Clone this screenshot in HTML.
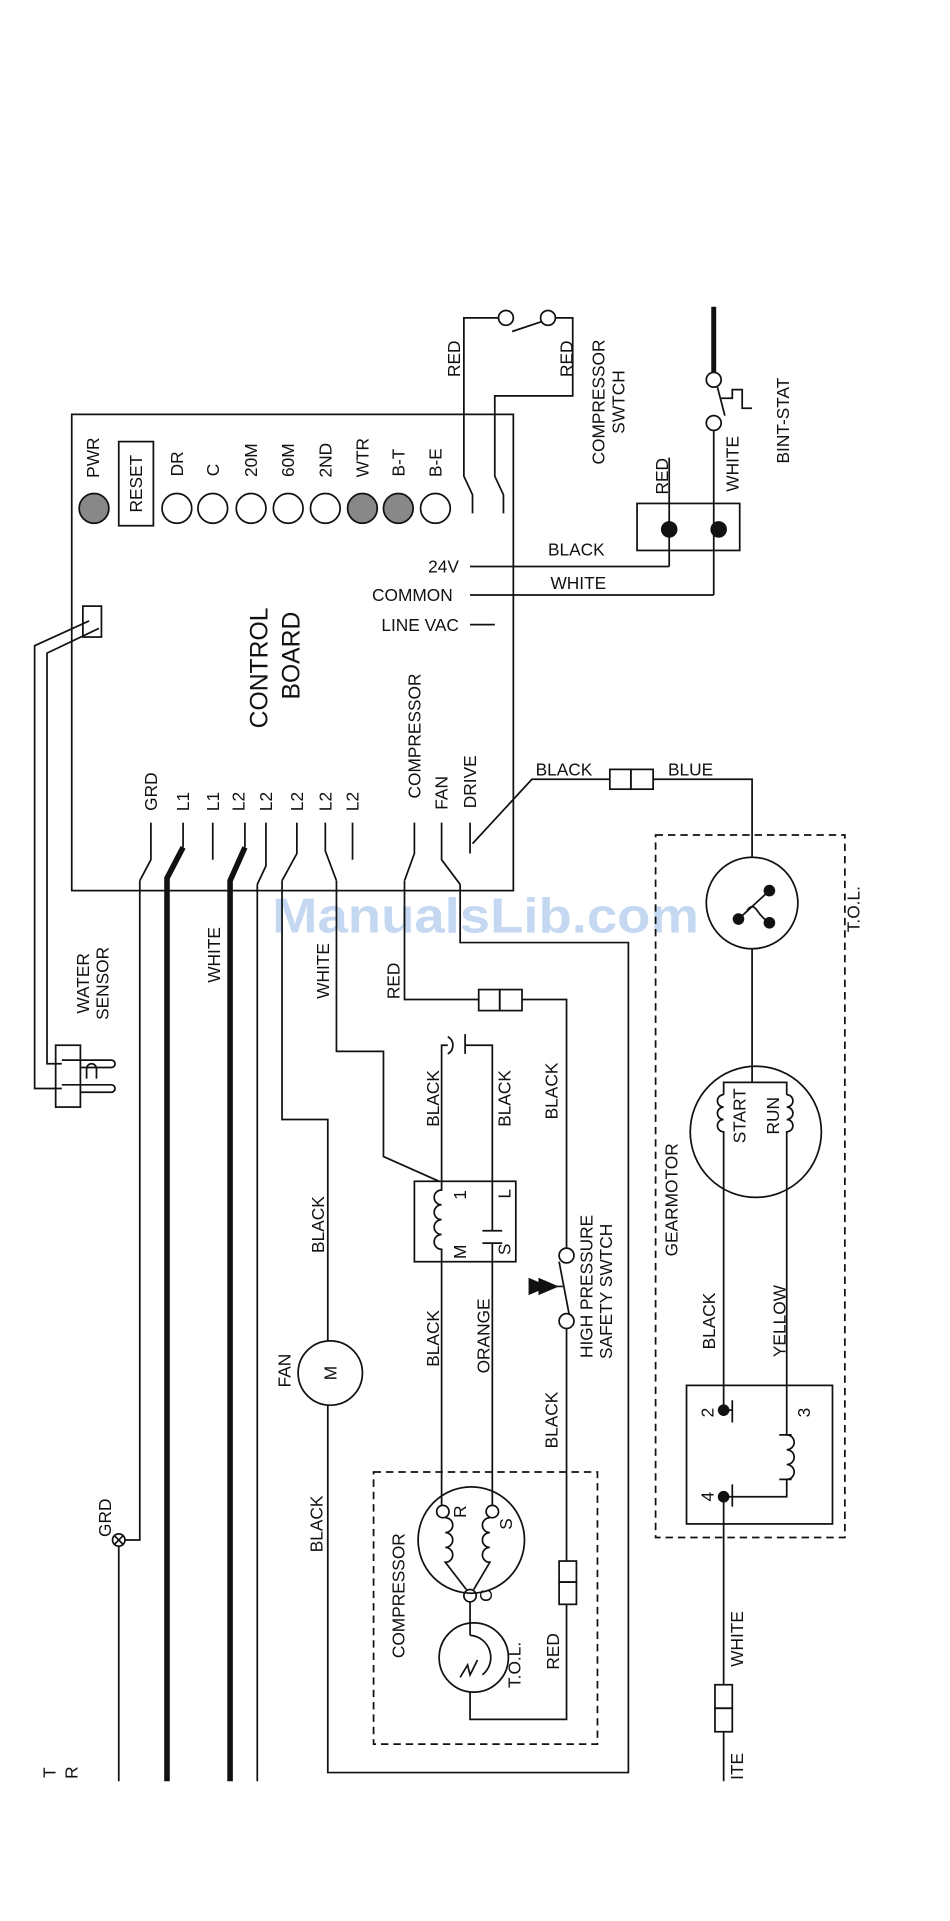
<!DOCTYPE html>
<html><head><meta charset="utf-8"><style>
html,body{margin:0;padding:0;background:#fff;}
svg{display:block;}
text{font-family:"Liberation Sans",sans-serif;font-size:14px;fill:#111;}
</style></head><body>
<svg width="950" height="1921" viewBox="0 0 768 1553" preserveAspectRatio="none" xmlns="http://www.w3.org/2000/svg">
<text x="220" y="754" textLength="345" lengthAdjust="spacingAndGlyphs" style="fill:#c5d8f2;font-weight:bold;font-size:40px">ManualsLib.com</text>
<g fill="none" stroke="#111" stroke-width="1.4">
<!-- control board -->
<rect x="58" y="335" width="357" height="385"/>
<rect x="96" y="357" width="28" height="68"/>
<circle cx="76" cy="411" r="12" fill="#888"/>
<circle cx="143" cy="411" r="12"/><circle cx="172" cy="411" r="12"/><circle cx="203" cy="411" r="12"/>
<circle cx="233" cy="411" r="12"/><circle cx="263" cy="411" r="12"/>
<circle cx="293" cy="411" r="12" fill="#888"/><circle cx="322" cy="411" r="12" fill="#888"/>
<circle cx="352" cy="411" r="12"/>
<!-- compressor switch -->
<circle cx="409" cy="257" r="6"/><circle cx="443" cy="257" r="6"/>
<line x1="414" y1="268" x2="438" y2="260"/>
<polyline points="403,257 375,257 375,385 382,400 382,415"/>
<polyline points="449,257 463,257 463,320 400,320 400,385 407,400 407,415"/>
<!-- bin stat -->
<line x1="577" y1="248" x2="577" y2="301" stroke-width="4"/>
<circle cx="577" cy="307" r="6"/><circle cx="577" cy="342" r="6"/>
<line x1="580" y1="313" x2="586" y2="336"/>
<polyline points="583,322 592,322 592,315 600,315 600,330 608,330"/>
<line x1="577" y1="348" x2="577" y2="481"/>
<rect x="515" y="407" width="83" height="38"/>
<line x1="541" y1="370" x2="541" y2="458"/>
<circle cx="541" cy="428" r="6" fill="#111"/><circle cx="581" cy="428" r="6" fill="#111"/>
<polyline points="380,458 541,458"/>
<polyline points="380,481 577,481"/>
<line x1="380" y1="505" x2="400" y2="505"/>
<!-- water sensor -->
<rect x="67" y="490" width="15" height="25"/>
<polyline points="72,502 28,522 28,880 50,880"/>
<polyline points="80,508 38,528 38,860 50,860"/>
<rect x="45" y="845" width="20" height="50"/>
<path d="M50,857 H90 a3,3 0 0 1 0,6 H65 M50,877 H90 a3,3 0 0 1 0,6 H65"/>
<path d="M70,872 v-8 a4,4 0 0 1 8,0 v8"/>
<!-- bottom terminal stubs -->
<path d="M122,665 V695 L113,712 M148,665 V685 M172,665 V695 M198,665 V685 M215,665 V700 L208,715 M240,665 V690 L228,712 M263,665 V688 L272,712 M285,665 V695 M335,665 V690 L327,712 M357,665 V695 L372,715 M380,665 V690"/>
<!-- wires -->
<polyline points="113,712 113,1245 101,1245"/>
<circle cx="96" cy="1245" r="5"/><path d="M92.5,1241.5 L99.5,1248.5 M99.5,1241.5 L92.5,1248.5"/>
<line x1="96" y1="1250" x2="96" y2="1440"/>
<polyline points="148,685 135,710 135,1440" stroke-width="4.5"/>
<polyline points="198,685 186,712 186,1440" stroke-width="4.5"/>
<line x1="208" y1="715" x2="208" y2="1440"/>
<polyline points="228,712 228,905 265,905 265,1084"/>
<circle cx="267" cy="1110" r="26"/>
<polyline points="265,1136 265,1433 508,1433 508,762 372,762 372,715"/>
<polyline points="272,712 272,850 310,850 310,935 355,955"/>
<polyline points="327,712 327,808 387,808"/>
<rect x="387" y="800" width="17" height="17"/><rect x="404" y="800" width="18" height="17"/>
<polyline points="422,808 458,808 458,1009"/>
<circle cx="458" cy="1015" r="6"/><circle cx="458" cy="1068" r="6"/>
<line x1="452" y1="1020" x2="460" y2="1062"/>
<line x1="442" y1="1040" x2="455" y2="1040"/>
<path d="M428,1034 L442,1040 L428,1046 Z M436,1034 L450,1040 L436,1046 Z" fill="#111"/>
<polyline points="458,1074 458,1262"/>
<rect x="452" y="1262" width="14" height="17"/><rect x="452" y="1279" width="14" height="18"/>
<polyline points="458,1297 458,1390 380,1390 380,1368"/>
<!-- drive -->
<polyline points="382,682 430,630 493,630"/>
<rect x="493" y="622" width="17" height="16"/><rect x="510" y="622" width="18" height="16"/>
<polyline points="528,630 608,630 608,693"/>
<!-- relay -->
<rect x="335" y="955" width="82" height="65"/>
<path d="M357,955 V962 a6,6 0 0 0 0,12 a6,6 0 0 0 0,12 a6,6 0 0 0 0,12 a6,6 0 0 0 0,12 V1020"/>
<polyline points="357,955 357,845 362,845"/>
<path d="M362,838 a8,8 0 0 1 0,14"/>
<path d="M376,836 V852 M376,845 H398 V995 M390,995 H406 M390,1005 H406 M398,1005 V1217"/>
<line x1="357" y1="1020" x2="357" y2="1217"/>
<!-- compressor -->
<rect x="302" y="1190" width="181" height="220" stroke-dasharray="6,4"/>
<circle cx="381" cy="1245" r="43"/>
<circle cx="358" cy="1222" r="5"/><circle cx="398" cy="1222" r="5"/><circle cx="380" cy="1290" r="5"/>
<path d="M360,1227 a6,6 0 0 1 0,12 a6,6 0 0 1 0,12 a6,6 0 0 1 0,12 L377,1285 M396,1227 a6,6 0 0 0 0,12 a6,6 0 0 0 0,12 a6,6 0 0 0 0,12 L383,1285"/>
<line x1="380" y1="1295" x2="380" y2="1322"/>
<circle cx="383" cy="1340" r="28"/>
<path d="M380,1322 a18,18 0 0 1 10,32 M372,1356 l6,-10 l2,8 l6,-12"/>
<!-- gearmotor -->
<rect x="530" y="675" width="153" height="568" stroke-dasharray="6,4"/>
<circle cx="608" cy="730" r="37"/>
<circle cx="597" cy="743" r="4" fill="#111"/><circle cx="622" cy="720" r="4" fill="#111"/><circle cx="622" cy="746" r="4" fill="#111"/>
<path d="M597,743 L622,720 M604,736 q4,-6 8,0 q4,6 10,10"/>
<line x1="608" y1="767" x2="608" y2="875"/>
<circle cx="611" cy="915" r="53"/>
<polyline points="585,885 585,875 636,875 636,885"/>
<path d="M585,885 a5,5 0 0 0 0,10 a5,5 0 0 0 0,10 a5,5 0 0 0 0,10 V1140 M636,885 a5,5 0 0 1 0,10 a5,5 0 0 1 0,10 a5,5 0 0 1 0,10 V1160"/>
<rect x="555" y="1120" width="118" height="112"/>
<circle cx="585" cy="1140" r="4" fill="#111"/><circle cx="585" cy="1210" r="4" fill="#111"/>
<path d="M592,1132 V1150 M592,1200 V1218 M585,1140 H592 M585,1210 H592"/>
<path d="M636,1160 a6,6 0 0 1 0,12 a6,6 0 0 1 0,12 a6,6 0 0 1 0,12 M640,1160 H630 M630,1196 H640 M636,1196 V1210 H592"/>
<line x1="585" y1="1210" x2="585" y2="1362"/>
<rect x="578" y="1362" width="14" height="19"/><rect x="578" y="1381" width="14" height="19"/>
<line x1="585" y1="1400" x2="585" y2="1440"/>
</g>
<g dominant-baseline="central" text-anchor="middle">
<text transform="translate(75,370) rotate(-90)">PWR</text>
<text transform="translate(110,391) rotate(-90)">RESET</text>
<text transform="translate(143,375) rotate(-90)">DR</text>
<text transform="translate(172,380) rotate(-90)">C</text>
<text transform="translate(203,372) rotate(-90)">20M</text>
<text transform="translate(233,372) rotate(-90)">60M</text>
<text transform="translate(263,372) rotate(-90)">2ND</text>
<text transform="translate(293,370) rotate(-90)">WTR</text>
<text transform="translate(322,374) rotate(-90)">B-T</text>
<text transform="translate(352,374) rotate(-90)">B-E</text>
<text transform="translate(210,540) rotate(-90)" style="font-size:20px">CONTROL</text>
<text transform="translate(236,530) rotate(-90)" style="font-size:20px">BOARD</text>
<text transform="translate(122,640) rotate(-90)">GRD</text>
<text transform="translate(148,648) rotate(-90)">L1</text>
<text transform="translate(172,648) rotate(-90)">L1</text>
<text transform="translate(193,648) rotate(-90)">L2</text>
<text transform="translate(215,648) rotate(-90)">L2</text>
<text transform="translate(240,648) rotate(-90)">L2</text>
<text transform="translate(263,648) rotate(-90)">L2</text>
<text transform="translate(285,648) rotate(-90)">L2</text>
<text transform="translate(335,595) rotate(-90)">COMPRESSOR</text>
<text transform="translate(357,641) rotate(-90)">FAN</text>
<text transform="translate(380,632) rotate(-90)">DRIVE</text>
<text transform="translate(367,290) rotate(-90)">RED</text>
<text transform="translate(458,290) rotate(-90)">RED</text>
<text transform="translate(484,325) rotate(-90)">COMPRESSOR</text>
<text transform="translate(500,325) rotate(-90)">SWTCH</text>
<text transform="translate(535,385) rotate(-90)">RED</text>
<text transform="translate(592,375) rotate(-90)">WHITE</text>
<text transform="translate(633,340) rotate(-90)">BINT-STAT</text>
<text transform="translate(67,795) rotate(-90)">WATER</text>
<text transform="translate(83,795) rotate(-90)">SENSOR</text>
<text transform="translate(173,772) rotate(-90)">WHITE</text>
<text transform="translate(261,785) rotate(-90)">WHITE</text>
<text transform="translate(318,793) rotate(-90)">RED</text>
<text transform="translate(350,888) rotate(-90)">BLACK</text>
<text transform="translate(408,888) rotate(-90)">BLACK</text>
<text transform="translate(446,882) rotate(-90)">BLACK</text>
<text transform="translate(257,990) rotate(-90)">BLACK</text>
<text transform="translate(372,966) rotate(-90)">1</text>
<text transform="translate(408,965) rotate(-90)">L</text>
<text transform="translate(372,1012) rotate(-90)">M</text>
<text transform="translate(408,1010) rotate(-90)">S</text>
<text transform="translate(267,1110) rotate(-90)">M</text>
<text transform="translate(230,1108) rotate(-90)">FAN</text>
<text transform="translate(350,1082) rotate(-90)">BLACK</text>
<text transform="translate(391,1080) rotate(-90)">ORANGE</text>
<text transform="translate(474,1040) rotate(-90)">HIGH PRESSURE</text>
<text transform="translate(490,1044) rotate(-90)">SAFETY SWTCH</text>
<text transform="translate(446,1148) rotate(-90)">BLACK</text>
<text transform="translate(256,1232) rotate(-90)">BLACK</text>
<text transform="translate(85,1227) rotate(-90)">GRD</text>
<text transform="translate(322,1290) rotate(-90)">COMPRESSOR</text>
<text transform="translate(372,1222) rotate(-90)">R</text>
<text transform="translate(409,1232) rotate(-90)">S</text>
<text transform="translate(393,1290) rotate(-90)">C</text>
<text transform="translate(416,1346) rotate(-90)">T.O.L.</text>
<text transform="translate(447,1335) rotate(-90)">RED</text>
<text transform="translate(690,735) rotate(-90)">T.O.L.</text>
<text transform="translate(598,902) rotate(-90)">START</text>
<text transform="translate(625,902) rotate(-90)">RUN</text>
<text transform="translate(543,970) rotate(-90)">GEARMOTOR</text>
<text transform="translate(573,1068) rotate(-90)">BLACK</text>
<text transform="translate(630,1068) rotate(-90)">YELLOW</text>
<text transform="translate(572,1142) rotate(-90)">2</text>
<text transform="translate(650,1142) rotate(-90)">3</text>
<text transform="translate(572,1210) rotate(-90)">4</text>
<text transform="translate(596,1325) rotate(-90)">WHITE</text>
<text transform="translate(596,1428) rotate(-90)">ITE</text>
<text transform="translate(40,1433) rotate(-90)">T</text>
<text transform="translate(58,1433) rotate(-90)">R</text>
</g>
<g text-anchor="end">
<text x="371" y="463">24V</text>
<text x="366" y="486">COMMON</text>
<text x="371" y="510">LINE VAC</text>
</g>
<text x="443" y="449">BLACK</text>
<text x="445" y="476">WHITE</text>
<text x="433" y="627">BLACK</text>
<text x="540" y="627">BLUE</text>
</svg>
</body></html>
